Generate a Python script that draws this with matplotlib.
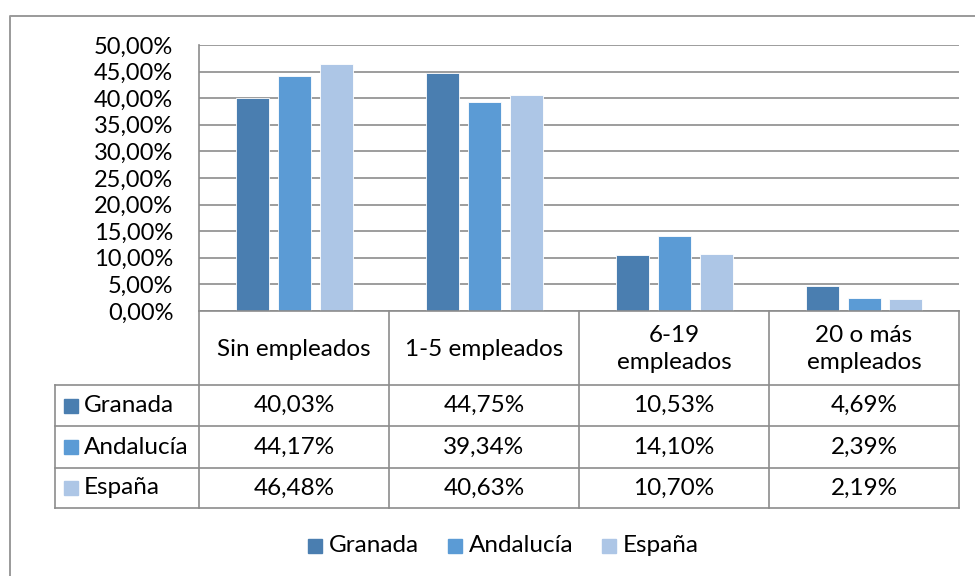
import matplotlib
matplotlib.use("Agg")
import matplotlib.pyplot as plt
from matplotlib.patches import Rectangle
from matplotlib.lines import Line2D
import numpy as np

categories = ["Sin empleados", "1-5 empleados", "6-19\nempleados", "20 o más\nempleados"]
series_names = ["Granada", "Andalucía", "España"]
granada = [40.03, 44.75, 10.53, 4.69]
andalucia = [44.17, 39.34, 14.10, 2.39]
espana = [46.48, 40.63, 10.70, 2.19]
yticks = [0, 5, 10, 15, 20, 25, 30, 35, 40, 45, 50]

colors = ["#4A7EB0", "#5B9BD5", "#ADC6E6"]
FONT = ["Lato", "DejaVu Sans"]
plt.rcParams['font.family'] = FONT
FS = 17.5
FSY = 17

W, H = 975, 576
fig = plt.figure(figsize=(W / 100, H / 100), dpi=100)

def fx(x):
    return x / W

def fy(y):
    return 1 - y / H

# plot area
px0, px1, py0, py1 = 199, 959, 45, 311
ax = fig.add_axes([fx(px0), fy(py1), fx(px1 - px0), (py1 - py0) / H])
ax.set_xlim(-0.5, len(categories) - 0.5)
ax.set_ylim(0, 50)
x = np.arange(len(categories))
step = 42 / 190
bw = 33 / 190
for i, (vals, c) in enumerate(zip([granada, andalucia, espana], colors)):
    ax.bar(x + (i - 1) * step, vals, width=bw, color=c, edgecolor="white",
           linewidth=0.6, zorder=3)
ax.set_yticks(yticks)
ax.set_yticklabels([f"{t:.2f}%".replace(".", ",") for t in yticks], fontsize=FSY)
ax.tick_params(axis="y", length=0, pad=18.5)
ax.set_xticks([])
ax.grid(axis="y", color="#8C8C8C", linewidth=1.2, zorder=0)
for s in ["top", "right", "bottom"]:
    ax.spines[s].set_visible(False)
ax.spines["left"].set_color("#8C8C8C")
ax.spines["left"].set_linewidth(1.2)

# overlay for the data table and legend
ov = fig.add_axes([0, 0, 1, 1], zorder=5)
ov.set_xlim(0, W)
ov.set_ylim(H, 0)
ov.axis("off")
ov.patch.set_alpha(0)

lc = "#8C8C8C"
lw = 1.2
# outer chart border
ov.add_line(Line2D([10, 10, W + 5], [H + 5, 16, 16], color="#9A9A9A", lw=1.4))

col_edges = [199, 389, 579, 769, 959]
row_edges = [311, 385, 426, 468, 508]
legend_left = 55
# horizontal lines
ov.add_line(Line2D([199, 959], [311, 311], color=lc, lw=lw))
for yy in row_edges[1:]:
    ov.add_line(Line2D([legend_left, 959], [yy, yy], color=lc, lw=lw))
# vertical lines
ov.add_line(Line2D([legend_left, legend_left], [385, 508], color=lc, lw=lw))
ov.add_line(Line2D([199, 199], [311, 508], color=lc, lw=lw))
for xx in col_edges[1:]:
    ov.add_line(Line2D([xx, xx], [311, 508], color=lc, lw=lw))

# header labels
for j, cat in enumerate(categories):
    cx = (col_edges[j] + col_edges[j + 1]) / 2
    ov.text(cx, (311 + 385) / 2 + 1, cat, ha="center", va="center", fontsize=FS,
            linespacing=1.3)

# rows
for r, (name, vals, c) in enumerate(zip(series_names, [granada, andalucia, espana], colors)):
    cy = (row_edges[r + 1] + row_edges[r + 2]) / 2
    ov.add_patch(Rectangle((64, cy - 7), 14, 14, color=c))
    ov.text(84, cy, name, ha="left", va="center", fontsize=FS)
    for j, v in enumerate(vals):
        cx = (col_edges[j] + col_edges[j + 1]) / 2
        ov.text(cx, cy, f"{v:.2f}%".replace(".", ","), ha="center", va="center",
                fontsize=FS)

# bottom legend
leg_y = 546
leg_x = [308, 448, 602]
for lx, name, c in zip(leg_x, series_names, colors):
    ov.add_patch(Rectangle((lx, leg_y - 7), 14, 14, color=c))
    ov.text(lx + 21, leg_y, name, ha="left", va="center", fontsize=FS)

fig.savefig("out.png", dpi=100)
